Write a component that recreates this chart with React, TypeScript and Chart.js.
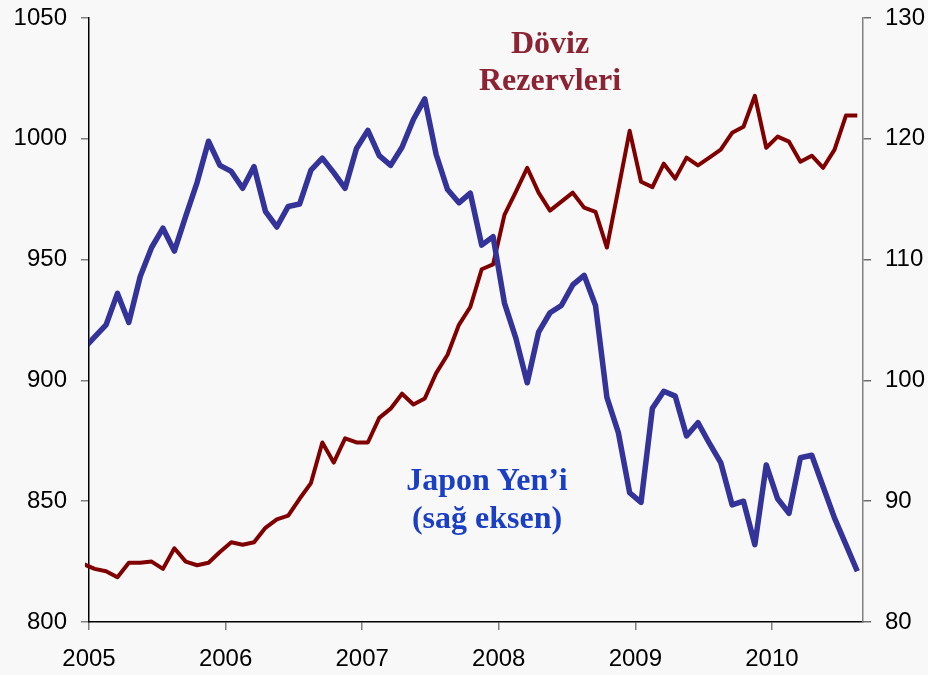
import React, { useEffect, useRef } from "react";
import { Chart, registerables } from "chart.js";

Chart.register(...registerables);

// ---- data -------------------------------------------------------------
// first value is Dec 2004 (line enters from the left edge), then Jan 2005 .. Aug 2010
const START_YEAR = 2004;
const START_MONTH = 12; // December
const yearLabels = ["2005", "2006", "2007", "2008", "2009", "2010"];
const leftTicks = [800, 850, 900, 950, 1000, 1050];
const rightTicks = [80, 90, 100, 110, 120, 130];

// Döviz Rezervleri (left axis)
const reserves = [
  824,
  822, 821, 818.5, 824.5, 824.5, 825, 822, 830.5, 825, 823.5, 824.5, 829,
  833, 832, 833, 839, 842.5, 844, 851, 857.5, 874.3, 866, 876, 874.3,
  874.3, 884.5, 888.3, 894.5, 890, 892.5, 903, 910.6, 923, 930.4, 946, 948,
  968.5, 978, 988, 977.7, 970.3, 974, 977.7, 971.5, 969.8, 955, 979, 1003.3,
  982.2, 980, 989.7, 983.5, 992.2, 989, 992.2, 995.5, 1002.5, 1005, 1017.8, 996.3,
  1000.9, 998.8, 990.5, 993, 988, 995.5, 1009.6, 1009.6,
];

// Japon Yen'i (right axis)
const yen = [
  102.6,
  103.6, 104.6, 107.2, 104.8, 108.6, 111.0, 112.6, 110.7, 113.6, 116.4, 119.8, 117.8,
  117.3, 115.9, 117.7, 114.0, 112.7, 114.4, 114.6, 117.4, 118.4, 117.2, 115.9, 119.2,
  120.7, 118.6, 117.8, 119.3, 121.6, 123.3, 118.7, 115.8, 114.7, 115.5, 111.2, 111.9,
  106.4, 103.5, 99.8, 104.0, 105.6, 106.2, 107.9, 108.7, 106.2, 98.6, 95.7, 90.7,
  89.9, 97.7, 99.1, 98.7, 95.4, 96.5, 94.8, 93.2, 89.7, 90.0, 86.4, 93.0,
  90.2, 89.0, 93.6, 93.8, 91.2, 88.6, 86.4, 84.2,
];

// month offset (months after Jan 2005), points placed mid-month
const monthPos = (i: number) => (START_YEAR - 2005) * 12 + (START_MONTH - 1) + i + 0.5;

const BG = "#f8f8f8";
const TICK_FONT = { family: "'Liberation Sans', Arial, sans-serif", size: 24 };

export default function App() {
  const canvasRef = useRef<HTMLCanvasElement | null>(null);

  useEffect(() => {
    document.body.style.margin = "0";
    document.body.style.background = BG;
    const canvas = canvasRef.current;
    if (!canvas) return;

    const noPad = (s: any) => {
      s.paddingTop = 0;
      s.paddingBottom = 0;
    };

    const chart = new Chart(canvas, {
      type: "line",
      data: {
        datasets: [
          {
            label: "Japon Yen’i",
            data: yen.map((v, i) => ({ x: monthPos(i), y: v })),
            yAxisID: "yR",
            borderColor: "#333399",
            backgroundColor: "#333399",
            borderWidth: 5.5,
            pointRadius: 0,
            borderJoinStyle: "round",
            borderCapStyle: "butt",
            tension: 0,
            clip: { left: 0, top: 10, right: 10, bottom: 10 },
          },
          {
            label: "Döviz Rezervleri",
            data: reserves.map((v, i) => ({ x: monthPos(i), y: v })),
            yAxisID: "yL",
            borderColor: "#800000",
            backgroundColor: "#800000",
            borderWidth: 4,
            pointRadius: 0,
            borderJoinStyle: "round",
            borderCapStyle: "butt",
            tension: 0,
            clip: { left: 4, top: 10, right: 10, bottom: 10 },
          },
        ],
      },
      options: {
        animation: false,
        responsive: false,
        maintainAspectRatio: false,
        layout: { padding: { top: 18, left: 0, right: 0, bottom: 0 } },
        plugins: {
          legend: { display: false },
          tooltip: { enabled: false },
        },
        scales: {
          x: {
            type: "linear",
            min: 0,
            max: 68,
            afterBuildTicks: (s: any) => {
              s.ticks = yearLabels.map((_, k) => ({ value: k * 12 }));
            },
            ticks: {
              callback: (v: any) => yearLabels[Math.round(Number(v) / 12)] ?? "",
              font: TICK_FONT,
              color: "#000",
              padding: 15,
              maxRotation: 0,
              autoSkip: false,
            },
            grid: { drawOnChartArea: false, tickLength: 8, color: "#808080", lineWidth: 1.5 },
            border: { display: true, color: "#000", width: 1.5 },
            afterFit: (s: any) => {
              s.height = 53;
            },
          },
          yL: {
            type: "linear",
            position: "left",
            min: 800,
            max: 1050,
            afterBuildTicks: (s: any) => {
              s.ticks = leftTicks.map((v) => ({ value: v }));
            },
            ticks: { font: TICK_FONT, color: "#000", padding: 14, callback: (v: any) => String(v) },
            grid: { drawOnChartArea: false, tickLength: 8, color: "#808080", lineWidth: 1.5 },
            border: { display: true, color: "#000", width: 1.5 },
            afterFit: (s: any) => {
              s.width = 89;
              noPad(s);
            },
          },
          yR: {
            type: "linear",
            position: "right",
            min: 80,
            max: 130,
            afterBuildTicks: (s: any) => {
              s.ticks = rightTicks.map((v) => ({ value: v }));
            },
            ticks: { font: TICK_FONT, color: "#000", padding: 14, callback: (v: any) => String(v) },
            grid: { drawOnChartArea: false, tickLength: 8, color: "#707070", lineWidth: 1.5 },
            border: { display: true, color: "#808080", width: 1.5 },
            afterFit: (s: any) => {
              s.width = 65;
              noPad(s);
            },
          },
        },
      },
    } as any);

    return () => chart.destroy();
  }, []);

  const labelBase: React.CSSProperties = {
    position: "absolute",
    fontFamily: "'Liberation Serif', 'Times New Roman', serif",
    fontWeight: "bold",
    fontSize: 32,
    textAlign: "center",
    width: 300,
    whiteSpace: "nowrap",
  };

  return (
    <div style={{ position: "relative", width: 928, height: 675, background: BG, overflow: "hidden" }}>
      <canvas ref={canvasRef} width={928} height={675} style={{ display: "block", width: 928, height: 675 }} />
      <div style={{ ...labelBase, left: 400, top: 24, lineHeight: "37px", color: "#8c2333" }}>
        Döviz
        <br />
        Rezervleri
      </div>
      <div style={{ ...labelBase, left: 337, top: 460, lineHeight: "38px", color: "#1a3fc4" }}>
        Japon Yen’i
        <br />
        (sağ eksen)
      </div>
    </div>
  );
}
